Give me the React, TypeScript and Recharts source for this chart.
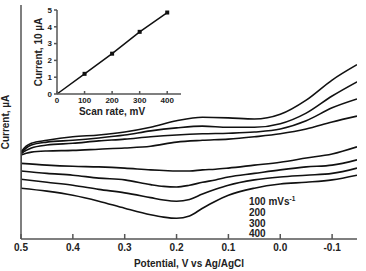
import React from "react";
import { Label, Line, LineChart, XAxis, YAxis } from "recharts";

const FONT = '"Liberation Sans", Arial, Helvetica, sans-serif';
const INK = "#222222";
const FRAME = "#555555";

// anodic sweep (upper branch), potentials in V vs Ag/AgCl, current in µA
const anodicPotential = [0.5, 0.49, 0.48, 0.45, 0.4, 0.35, 0.3, 0.25, 0.2, 0.15, 0.1, 0.05, 0.0, -0.05, -0.1, -0.148];
const anodic100 = [0, 0.3, 0.5, 0.7, 0.8, 1.0, 1.2, 1.5, 2.2, 2.5, 2.7, 3.1, 3.6, 4.4, 5.6, 6.6];
const anodic200 = [0.2, 0.8, 1.2, 1.7, 2.0, 2.4, 2.7, 3.1, 3.4, 3.6, 3.7, 3.9, 4.4, 5.8, 8.0, 9.5];
const anodic300 = [0.3, 1.2, 1.7, 2.2, 2.5, 2.9, 3.4, 4.1, 4.6, 4.9, 4.7, 4.7, 5.3, 7.1, 10.0, 12.4];
const anodic400 = [0.5, 1.5, 2.0, 2.5, 3.1, 3.4, 3.9, 4.7, 5.8, 6.4, 6.3, 6.1, 6.9, 9.3, 12.7, 15.3];

// cathodic sweep (lower branch), denser around the reduction peak
const cathodicPotential = [0.5, 0.45, 0.4, 0.35, 0.3, 0.25, 0.225, 0.2, 0.175, 0.15, 0.125, 0.1, 0.05, 0.0, -0.05, -0.1, -0.148];
const cathodic100 = [-1.4, -1.7, -1.9, -2.0, -2.2, -2.5, -2.6, -2.7, -2.7, -2.5, -2.4, -2.2, -1.7, -1.2, -0.5, 0.2, 1.4];
const cathodic200 = [-2.7, -3.1, -3.4, -3.9, -4.2, -5.0, -5.3, -5.4, -5.1, -4.6, -4.2, -3.7, -3.1, -2.5, -2.0, -1.7, -0.8];
const cathodic300 = [-4.1, -4.6, -5.1, -5.8, -6.4, -7.2, -7.6, -7.8, -7.5, -6.6, -5.8, -5.1, -4.2, -3.7, -3.4, -3.1, -2.2];
const cathodic400 = [-5.6, -6.1, -6.8, -7.8, -9.0, -10.1, -10.5, -10.7, -10.3, -9.0, -7.8, -6.8, -5.6, -4.9, -4.6, -4.2, -3.4];

const scanRates = ["100", "200", "300", "400"];
const potentialTicks = [0.5, 0.4, 0.3, 0.2, 0.1, 0.0, -0.1];
const currentTicks = [-10, 0, 10, 20];

// inset: peak current vs scan rate
const insetRate = [0, 100, 200, 300, 400];
const insetPeak = [0, 1.2, 2.4, 3.7, 4.85];
const insetRateTicks = [0, 100, 200, 300, 400];
const insetPeakTicks = [0, 1, 2, 3, 4, 5];

const anodic = [anodic100, anodic200, anodic300, anodic400];
const cathodic = [cathodic100, cathodic200, cathodic300, cathodic400];

const toPoints = (xs: number[], ys: number[]) => xs.map((v, k) => ({ v, i: ys[k] }));

const sweeps = scanRates.map((rate, k) => ({
  rate,
  up: toPoints(anodicPotential, anodic[k]),
  down: toPoints(cathodicPotential, cathodic[k]),
  // vertical turn at the switching potential
  turn: [
    { v: anodicPotential[0], i: anodic[k][0] },
    { v: cathodicPotential[0], i: cathodic[k][0] },
  ],
}));

const insetData = insetRate.map((rate, k) => ({ rate, peak: insetPeak[k] }));

const tickStyle = { fontSize: 10, fontWeight: 700, fill: INK, fontFamily: FONT };
const CURVE = { stroke: "#111", strokeWidth: 1.6 };

const SquareDot = (props: any) => {
  const { cx, cy, payload, index } = props;
  if (!payload || payload.rate === 0) return <g key={`sq-${index}`} />;
  return <rect key={`sq-${index}`} x={cx - 2} y={cy - 2} width={4} height={4} fill="#111" />;
};

const MainPlot = () => (
  <LineChart width={366} height={271} margin={{ top: 5, right: 9, bottom: 0, left: 0 }}>
    <XAxis
      xAxisId="b"
      type="number"
      dataKey="v"
      domain={[-0.148, 0.5]}
      reversed
      allowDataOverflow
      ticks={potentialTicks}
      tickFormatter={(v: number) => v.toFixed(1)}
      tick={tickStyle}
      tickSize={-5}
      tickMargin={10}
      height={32}
      stroke={FRAME}
      strokeWidth={1.5}
    >
      <Label
        value="Potential, V vs Ag/AgCl"
        position="insideBottom"
        offset={4}
        style={{ fontSize: 10, fontWeight: 700, fill: INK, fontFamily: FONT }}
      />
    </XAxis>
    <XAxis
      xAxisId="t"
      orientation="top"
      type="number"
      domain={[-0.148, 0.5]}
      reversed
      allowDataOverflow
      tick={false}
      tickLine={false}
      height={0}
      stroke={FRAME}
      strokeWidth={1.5}
    />
    <YAxis
      yAxisId="l"
      type="number"
      domain={[-14.2, 25.4]}
      allowDataOverflow
      ticks={currentTicks}
      tick={false}
      tickSize={-5}
      width={21}
      stroke={FRAME}
      strokeWidth={1.5}
    >
      <Label
        value="Current, µA"
        angle={-90}
        position="insideLeft"
        offset={5}
        style={{ fontSize: 10, fontWeight: 700, fill: INK, fontFamily: FONT, textAnchor: "middle" }}
      />
    </YAxis>
    <YAxis
      yAxisId="r"
      orientation="right"
      type="number"
      domain={[-14.2, 25.4]}
      tick={false}
      tickLine={false}
      width={0}
      stroke={FRAME}
      strokeWidth={1.5}
    />
    {sweeps.map((s) => (
      <Line
        key={`up-${s.rate}`}
        xAxisId="b"
        yAxisId="l"
        data={s.up}
        dataKey="i"
        type="monotoneX"
        {...CURVE}
        dot={false}
        isAnimationActive={false}
      />
    ))}
    {sweeps.map((s) => (
      <Line
        key={`down-${s.rate}`}
        xAxisId="b"
        yAxisId="l"
        data={s.down}
        dataKey="i"
        type="monotoneX"
        {...CURVE}
        dot={false}
        isAnimationActive={false}
      />
    ))}
    {sweeps.map((s) => (
      <Line
        key={`turn-${s.rate}`}
        xAxisId="b"
        yAxisId="l"
        data={s.turn}
        dataKey="i"
        type="linear"
        {...CURVE}
        dot={false}
        isAnimationActive={false}
      />
    ))}
  </LineChart>
);

const InsetPlot = () => (
  <LineChart width={190} height={125} margin={{ top: 10, right: 9, bottom: 0, left: 0 }}>
    <XAxis
      xAxisId="b"
      type="number"
      dataKey="rate"
      domain={[0, 450]}
      ticks={insetRateTicks}
      tick={{ ...tickStyle, fontSize: 8 }}
      tickSize={-3}
      tickMargin={6}
      height={31}
      stroke={FRAME}
      strokeWidth={1.5}
    >
      <Label
        value="Scan rate, mV"
        position="insideBottom"
        offset={10}
        dx={-7}
        style={{ fontSize: 10, fontWeight: 700, fill: INK, fontFamily: FONT }}
      />
    </XAxis>
    <XAxis
      xAxisId="t"
      orientation="top"
      type="number"
      domain={[0, 450]}
      tick={false}
      tickLine={false}
      height={0}
      stroke={FRAME}
      strokeWidth={1.5}
    />
    <YAxis
      yAxisId="l"
      type="number"
      domain={[0, 5]}
      ticks={insetPeakTicks}
      tick={{ ...tickStyle, fontSize: 8 }}
      tickSize={3}
      tickMargin={2}
      width={57}
      stroke={FRAME}
      strokeWidth={1.5}
    >
      <Label
        value="Current, 10 µA"
        angle={-90}
        position="insideLeft"
        offset={38}
        style={{ fontSize: 10, fontWeight: 700, fill: INK, fontFamily: FONT, textAnchor: "middle" }}
      />
    </YAxis>
    <YAxis
      yAxisId="r"
      orientation="right"
      type="number"
      domain={[0, 5]}
      tick={false}
      tickLine={false}
      width={0}
      stroke={FRAME}
      strokeWidth={1.5}
    />
    <Line
      xAxisId="b"
      yAxisId="l"
      data={insetData}
      dataKey="peak"
      type="linear"
      stroke="#111"
      strokeWidth={1.5}
      dot={SquareDot}
      isAnimationActive={false}
    />
  </LineChart>
);

export default function App() {
  return (
    <div
      style={{
        position: "absolute",
        left: 0,
        top: 0,
        width: 366,
        height: 271,
        background: "#fff",
        fontFamily: FONT,
      }}
    >
      <MainPlot />
      <div style={{ position: "absolute", left: 0, top: 0 }}>
        <InsetPlot />
      </div>
      <div
        style={{
          position: "absolute",
          left: 249,
          top: 197,
          fontSize: 10,
          lineHeight: "10.3px",
          fontWeight: 700,
          color: INK,
        }}
      >
        {scanRates.map((rate, k) => (
          <div key={rate}>
            {rate}
            {k === 0 && (
              <>
                {" mVs"}
                <span style={{ fontSize: 6.5, position: "relative", top: -4 }}>-1</span>
              </>
            )}
          </div>
        ))}
      </div>
    </div>
  );
}
